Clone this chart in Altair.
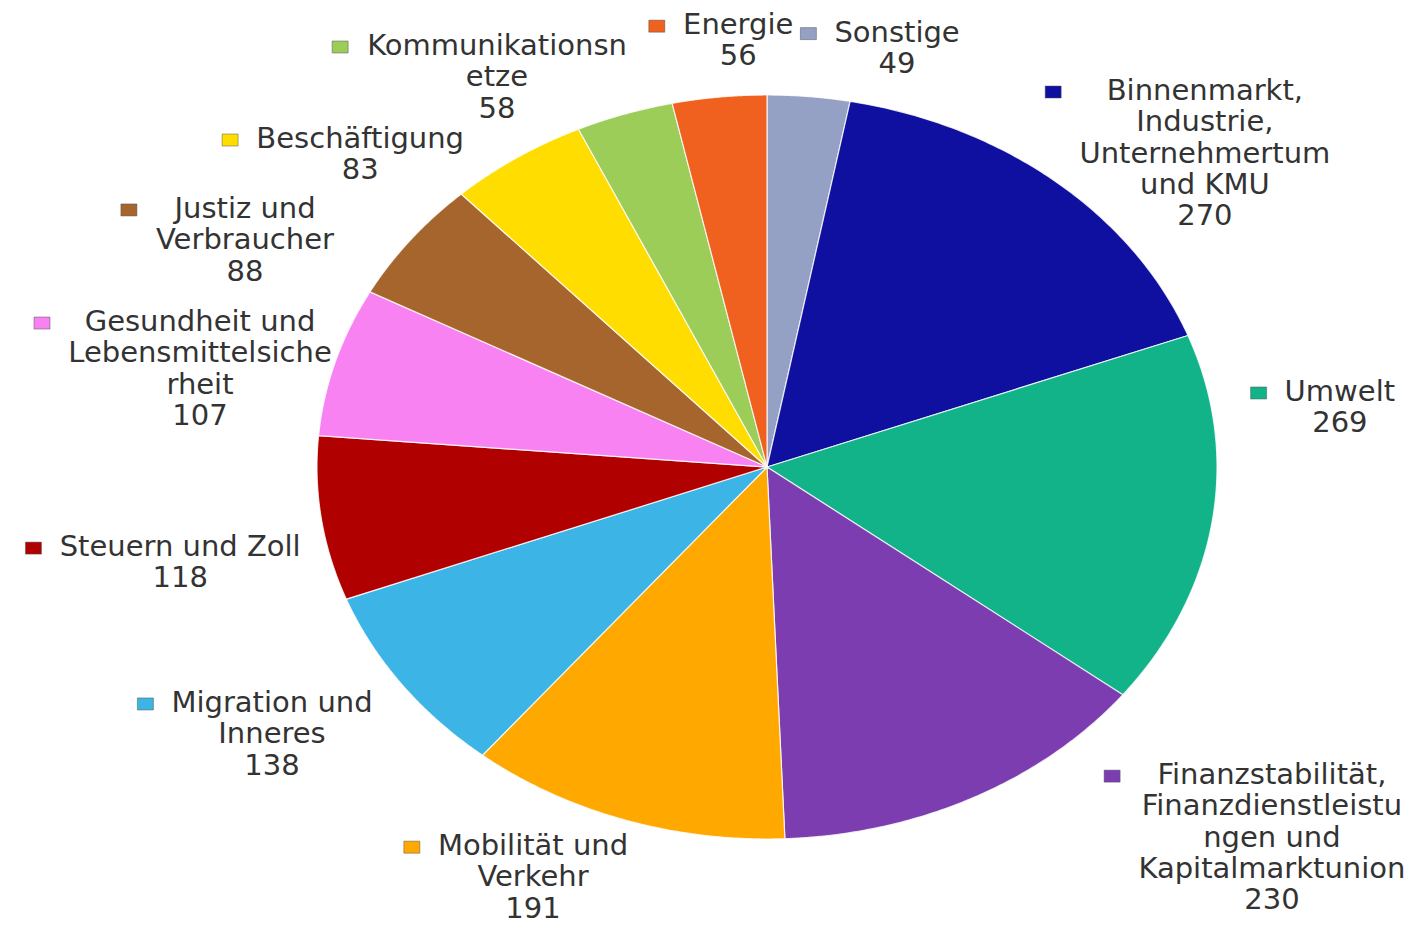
import altair as alt
import pandas as pd

# ---------------- data ----------------
categories = [
    "Sonstige",
    "Binnenmarkt, Industrie, Unternehmertum und KMU",
    "Umwelt",
    "Finanzstabilität, Finanzdienstleistungen und Kapitalmarktunion",
    "Mobilität und Verkehr",
    "Migration und Inneres",
    "Steuern und Zoll",
    "Gesundheit und Lebensmittelsicherheit",
    "Justiz und Verbraucher",
    "Beschäftigung",
    "Kommunikationsnetze",
    "Energie",
]
values = [49, 270, 269, 230, 191, 138, 118, 107, 88, 83, 58, 56]
label_lines = [
    ["Sonstige"],
    ["Binnenmarkt,", "Industrie,", "Unternehmertum", "und KMU"],
    ["Umwelt"],
    ["Finanzstabilität,", "Finanzdienstleistu", "ngen und", "Kapitalmarktunion"],
    ["Mobilität und", "Verkehr"],
    ["Migration und", "Inneres"],
    ["Steuern und Zoll"],
    ["Gesundheit und", "Lebensmittelsiche", "rheit"],
    ["Justiz und", "Verbraucher"],
    ["Beschäftigung"],
    ["Kommunikationsn", "etze"],
    ["Energie"],
]
colors = [
    "#94a0c4", "#0f0fa0", "#12b388", "#7b3db0", "#ffa800", "#3cb4e6",
    "#b00000", "#f982f2", "#a5652c", "#ffdd00", "#9ccd58", "#f0601e",
]
# label anchor (centre of first text line) in unit-pie coordinates
label_x = [0.289, 0.973, 1.273, 1.122, -0.520, -1.100, -1.304, -1.260, -1.160, -0.904, -0.600, -0.064]
label_y = [1.165, 1.008, 0.199, -0.831, -1.022, -0.637, -0.218, 0.387, 0.691, 0.879, 1.129, 1.185]

# ---------------- layout ----------------
W, H = 1408, 910          # view size
CX, CY = 759, 459         # pie centre inside the view
RX, RY = 450, 372         # pie radii (px)
FS = 29                   # label font size
LH = 31.3                 # line height
N = 90                    # points per slice arc

xscale = alt.Scale(domain=[-CX / RX, (W - CX) / RX], nice=False, zero=False)
yscale = alt.Scale(domain=[-(H - CY) / RY, CY / RY], nice=False, zero=False)

# approximate DejaVu Sans advance widths (em) for marker placement
EM = {
    "a": .613, "b": .635, "c": .550, "d": .635, "e": .615, "f": .352, "g": .635,
    "h": .634, "i": .278, "j": .278, "k": .579, "l": .278, "m": .974, "n": .634,
    "o": .612, "p": .635, "q": .635, "r": .411, "s": .521, "t": .392, "u": .634,
    "v": .592, "w": .818, "x": .592, "y": .592, "z": .525, "ä": .613, "ö": .612,
    "ü": .634, "B": .686, "E": .632, "F": .575, "G": .775, "I": .295, "J": .295,
    "K": .656, "L": .557, "M": .863, "S": .635, "U": .732, "V": .684, "Z": .685,
    "N": .748, " ": .318, ",": .318,
}


def text_w(s):
    return sum(EM.get(ch, 0.636) for ch in s) * FS


rows = []
for i, c in enumerate(categories):
    lines = label_lines[i] + [str(values[i])]
    wmax = max(text_w(l) for l in lines)
    rows.append({
        "order": i,
        "category": c,
        "value": values[i],
        "label": "\n".join(lines),
        "lx": label_x[i],
        "ly": label_y[i],
        "mx": label_x[i] - (wmax / 2 + 26) / RX,
    })
df = pd.DataFrame(rows)

color_scale = alt.Scale(domain=categories, range=colors)
base = alt.Chart(df)

pie = base.transform_window(
    cum="sum(value)", sort=[alt.SortField("order")], frame=[None, 0]
).transform_joinaggregate(
    total="sum(value)"
).transform_calculate(
    a0="2*PI*(datum.cum - datum.value)/datum.total",
    a1="2*PI*datum.cum/datum.total",
    k=f"sequence(0, {N + 3})",
).transform_flatten(["k"]).transform_calculate(
    t=f"clamp((datum.k - 1)/{N}, 0, 1)",
    r=f"(datum.k == 0 || datum.k == {N + 2}) ? 0 : 1",
    ang="datum.a0 + (datum.a1 - datum.a0)*datum.t",
    px="datum.r*sin(datum.ang)",
    py="datum.r*cos(datum.ang)",
).mark_line(
    filled=True, stroke="white", strokeWidth=1.2, strokeOpacity=0.8, strokeJoin="round"
).encode(
    x=alt.X("px:Q", scale=xscale, axis=None),
    y=alt.Y("py:Q", scale=yscale, axis=None),
    color=alt.Color("category:N", scale=color_scale, legend=None),
    detail="category:N",
    order="k:Q",
)

markers = base.mark_point(
    shape="M-1,-0.75L1,-0.75L1,0.75L-1,0.75Z", size=256, filled=True, opacity=1,
    stroke="#555555", strokeWidth=0.5,
).encode(
    x=alt.X("mx:Q", scale=xscale, axis=None),
    y=alt.Y("ly:Q", scale=yscale, axis=None),
    color=alt.Color("category:N", scale=color_scale, legend=None),
)

labels = base.mark_text(
    align="center", baseline="top", lineBreak="\n", font="DejaVu Sans",
    fontSize=FS, lineHeight=LH, color="#333333", dy=-15,
).encode(
    x=alt.X("lx:Q", scale=xscale, axis=None),
    y=alt.Y("ly:Q", scale=yscale, axis=None),
    text="label:N",
)

chart = alt.layer(pie, markers, labels).properties(
    width=W, height=H, padding=0
).configure_view(strokeWidth=0)

chart.save("out.html", embed_options={"renderer": "svg", "actions": False})
